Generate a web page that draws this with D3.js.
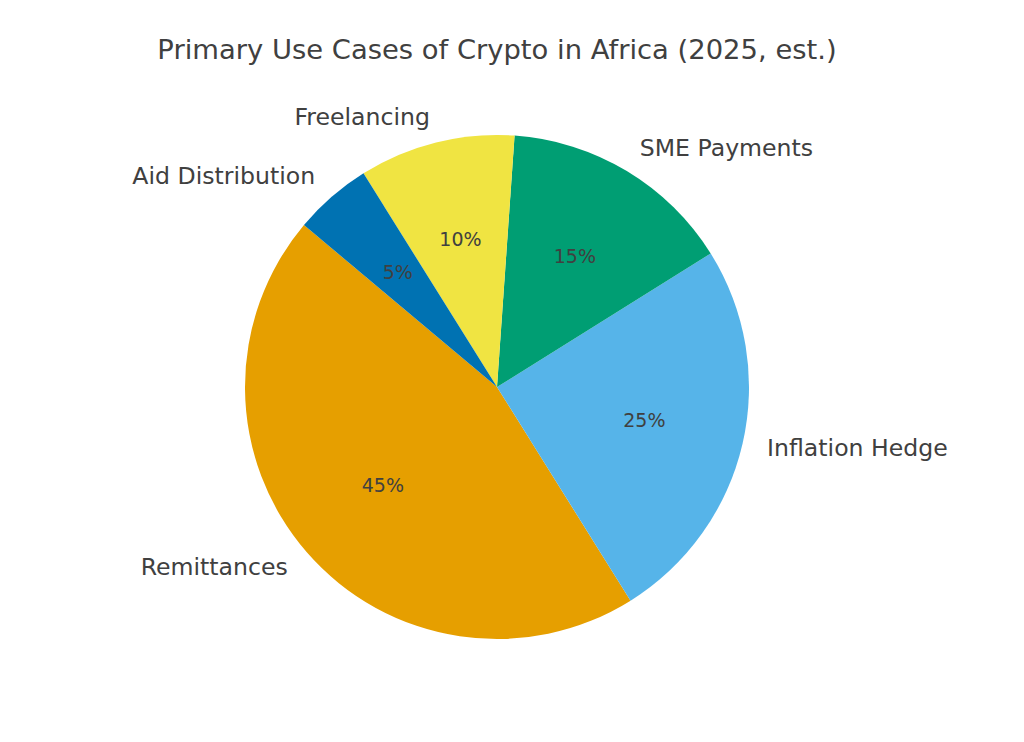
<!DOCTYPE html>
<html>
<head>
<meta charset="utf-8">
<script src="https://cdn.jsdelivr.net/npm/d3@7"></script>
<style>
  html, body { margin: 0; padding: 0; background: #fff; }
  svg { display: block; font-family: "DejaVu Sans", sans-serif; }
</style>
</head>
<body>
<svg id="chart" width="1024" height="742"></svg>
<script>
// ── Data ──────────────────────────────────────────────────────────────────
const categories = ['Remittances', 'Inflation Hedge', 'SME Payments', 'Freelancing', 'Aid Distribution'];
const shares     = [45, 25, 15, 10, 5];
const colors     = ['#E69F00', '#56B4E9', '#009E73', '#F0E442', '#0072B2'];
const title      = 'Primary Use Cases of Crypto in Africa (2025, est.)';

const svg = d3.select('#chart');
const cx = 497, cy = 387, R = 252;
const textColor = '#404040';

// matplotlib-style: startangle 140°, counter-clockwise
const start = (90 - 140) * Math.PI / 180;
const pie = d3.pie().sort(null).value(d => d.v)
  .startAngle(start).endAngle(start - 2 * Math.PI);

const data = pie(categories.map((c, i) => ({ c, v: shares[i], col: colors[i] })));
const arc = d3.arc().innerRadius(0).outerRadius(R);

const g = svg.append('g').attr('transform', `translate(${cx},${cy})`);

g.selectAll('path.slice').data(data).join('path')
  .attr('class', 'slice')
  .attr('d', arc)
  .attr('fill', d => d.data.col);

const mid = d => (d.startAngle + d.endAngle) / 2;
const pos = (d, r) => [Math.sin(mid(d)) * r, -Math.cos(mid(d)) * r];

// percentage labels
g.selectAll('text.pct').data(data).join('text')
  .attr('class', 'pct')
  .attr('x', d => pos(d, R * 0.6)[0])
  .attr('y', d => pos(d, R * 0.6)[1] - 1)
  .attr('text-anchor', 'middle')
  .attr('dominant-baseline', 'central')
  .attr('font-size', 19)
  .attr('fill', textColor)
  .text(d => d.data.v + '%');

// category labels
g.selectAll('text.lbl').data(data).join('text')
  .attr('class', 'lbl')
  .attr('x', d => pos(d, R * 1.1)[0])
  .attr('y', d => pos(d, R * 1.1)[1] - 1.5)
  .attr('text-anchor', d => pos(d, 1)[0] > 0 ? 'start' : 'end')
  .attr('dominant-baseline', 'central')
  .attr('font-size', 23.6)
  .attr('fill', textColor)
  .text(d => d.data.c);

// title
svg.append('text')
  .attr('x', cx)
  .attr('y', 49.5)
  .attr('text-anchor', 'middle')
  .attr('dominant-baseline', 'central')
  .attr('font-size', 27.4)
  .attr('fill', textColor)
  .text(title);
</script>
</body>
</html>
